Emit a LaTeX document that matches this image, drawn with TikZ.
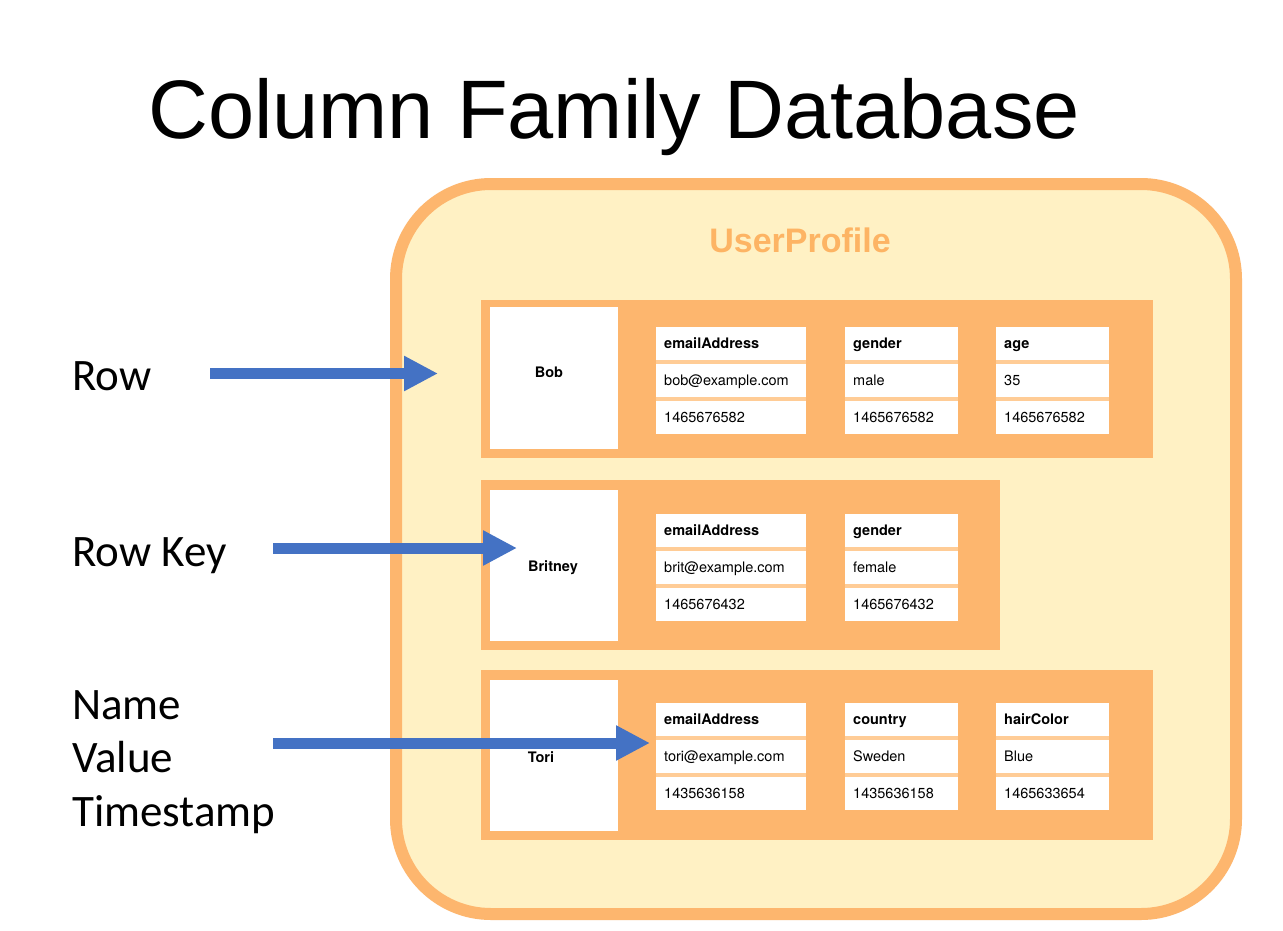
\documentclass[tikz,border=0pt]{standalone}
\usepackage{fontspec}
\setmainfont{Liberation Sans}
\newfontfamily\calibri{Carlito}
\newfontfamily\helv{TeX Gyre Heros}
\usetikzlibrary{arrows.meta,calc}
\definecolor{bandor}{RGB}{253,182,110}
\definecolor{gapor}{RGB}{255,204,150}
\definecolor{paleyel}{RGB}{255,241,196}
\definecolor{upor}{RGB}{253,180,100}
\definecolor{arrblue}{RGB}{68,114,196}
\tikzset{
  band/.style={fill=bandor, draw=none, anchor=north west, inner sep=0pt},
  keybox/.style={fill=white, draw=none, anchor=north west, inner sep=0pt, minimum width=128pt},
  keytxt/.style={font=\helv\fontsize{14.5}{16}\selectfont\bfseries, inner sep=0pt},
  cellbg/.style={fill=gapor, draw=none, anchor=north west, inner sep=0pt},
  cell/.style={fill=white, draw=none, anchor=north west, inner sep=0pt, minimum height=33pt},
  ctext/.style={anchor=base west, inner sep=0pt, font=\helv\fontsize{14.5}{16}\selectfont},
  htext/.style={ctext, font=\helv\fontsize{14.5}{16}\selectfont\bfseries},
  side/.style={font=\calibri\fontsize{45}{50}\selectfont, anchor=base west, inner sep=0pt},
  bigarrow/.style={draw=arrblue, line width=11pt, -{Triangle[length=34pt,width=33pt]}}
}
\newcommand{\mycol}[7]{% prefix, x, ytop, width, header, value, timestamp
  \node[cellbg, minimum width=#4pt, minimum height=107pt] (#1bg) at (#2,#3) {};
  \node[cell, minimum width=#4pt] (#1h) at (#2,#3) {};
  \node[htext] (#1ht) at ($(#1h.west)+(8,5)$) {#5};
  \node[cell, minimum width=#4pt] (#1v) at (#2,#3+37) {};
  \node[ctext] (#1vt) at ($(#1v.west)+(8,5)$) {#6};
  \node[cell, minimum width=#4pt] (#1t) at (#2,#3+74) {};
  \node[ctext] (#1tt) at ($(#1t.west)+(8,5)$) {#7};
}
\begin{document}
\begin{tikzpicture}[x=1pt,y=-1pt]
\useasboundingbox[fill=white] (0,0) rectangle (1283,930);
% title
\node[font=\fontsize{83}{96}\selectfont, anchor=base, inner sep=0pt] (title) at (614,138) {Column Family Database};
% outer box
\draw[draw=bandor, line width=12pt, fill=paleyel, rounded corners=95pt] (396,184) rectangle (1236,914);
\node[font=\fontsize{34}{38}\selectfont\bfseries, text=upor, inner sep=0pt] (up) at (800,240) {UserProfile};
% row 1
\node[band, minimum width=672pt, minimum height=158pt] (band1) at (481,300) {};
\node[keybox, minimum height=142pt] (key1) at (490,307) {};
\node[keytxt] (k1t) at (549,372) {Bob};
\mycol{ra}{656}{327}{150}{emailAddress}{bob@example.com}{1465676582}
\mycol{rb}{845}{327}{113}{gender}{male}{1465676582}
\mycol{rc}{996}{327}{113}{age}{35}{1465676582}
% row 2
\node[band, minimum width=519pt, minimum height=170pt] (band2) at (481,480) {};
\node[keybox, minimum height=151pt] (key2) at (490,490) {};
\node[keytxt] (k2t) at (553,568) {Britney};
\mycol{sa}{656}{514}{150}{emailAddress}{brit@example.com}{1465676432}
\mycol{sb}{845}{514}{113}{gender}{female}{1465676432}
% row 3
\node[band, minimum width=672pt, minimum height=170pt] (band3) at (481,670) {};
\node[keybox, minimum height=151pt] (key3) at (490,680) {};
\node[keytxt] (k3t) at (541,757) {Tori};
\mycol{ta}{656}{703}{150}{emailAddress}{tori@example.com}{1435636158}
\mycol{tb}{845}{703}{113}{country}{Sweden}{1435636158}
\mycol{tc}{996}{703}{113}{hairColor}{Blue}{1465633654}
% side labels
\node[side] (lrow) at (72,390) {Row};
\node[side] (lkey) at (72,566) {Row Key};
\node[side] (lname) at (72,719) {Name};
\node[side] (lval) at (72,772) {Value};
\node[side] (lts) at (72,826) {Timestamp};
% arrows
\coordinate (a1s) at (210,373.5);
\coordinate (a1e) at (438,373.5);
\coordinate (a2s) at (273,548);
\coordinate (a2e) at (517,548);
\coordinate (a3s) at (273,743);
\coordinate (a3e) at (650,743);
\draw[bigarrow] (a1s) -- (a1e);
\draw[bigarrow] (a2s) -- (a2e);
\draw[bigarrow] (a3s) -- (a3e);
\end{tikzpicture}
\end{document}
